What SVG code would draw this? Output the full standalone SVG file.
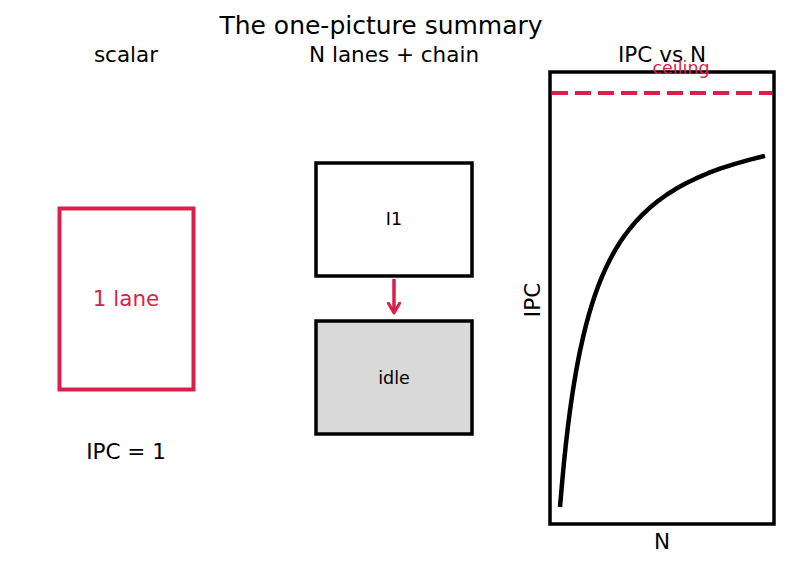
<svg xmlns="http://www.w3.org/2000/svg" width="787" height="567" viewBox="0 0 787 567">
<defs>
<style>
text{font-family:"DejaVu Sans","Liberation Sans",sans-serif;fill:#000}
.t{font-size:25px;text-anchor:middle}
.h{font-size:21.5px;text-anchor:middle}
.m{font-size:17.5px;text-anchor:middle}
.red{fill:#dc1e4a}
.box{fill:#fff;stroke:#000;stroke-width:3.5}
</style>
<marker id="ah" viewBox="0 0 10 10" refX="8" refY="5" markerWidth="4" markerHeight="4" orient="auto"><path d="M1,1 L8,5 L1,9" fill="none" stroke="#dc1e4a" stroke-width="2.2" stroke-linecap="round" stroke-linejoin="round"/></marker>
</defs>
<rect width="787" height="567" fill="#fff"/>
<text class="t" x="381" y="34">The one-picture summary</text>
<text class="h" x="126" y="62">scalar</text>
<text class="h" x="394" y="62">N lanes + chain</text>
<text class="h" x="662" y="62">IPC vs N</text>
<g id="scalar">
<rect x="59.5" y="208.5" width="134" height="181" fill="#fff" stroke="#dc1e4a" stroke-width="4"/>
<text class="h red" x="126" y="306">1 lane</text>
</g>
<text class="h" x="126" y="459">IPC = 1</text>
<g id="I1">
<rect class="box" x="316" y="163" width="156" height="113"/>
<text class="m" x="394" y="225">I1</text>
</g>
<g id="idle">
<rect class="box" x="316" y="321" width="156" height="113" style="fill:#d9d9d9"/>
<text class="m" x="394" y="384">idle</text>
</g>
<g id="connectors">
<line x1="394" y1="279" x2="394" y2="313" stroke="#dc1e4a" stroke-width="3.5" marker-end="url(#ah)"/>
</g>
<g id="plot">
<rect x="550" y="72" width="224" height="452" fill="none" stroke="#000" stroke-width="3.5"/>
<line x1="552" y1="93" x2="772" y2="93" stroke="#dc1e4a" stroke-width="4" stroke-dasharray="16,7"/>
<text class="m red" x="681" y="74">ceiling</text>
<polyline fill="none" stroke="#000" stroke-width="4.5" stroke-linejoin="round" points="560,507 562,483.7 564,462.1 566,443.1 568,426 570,410.5 572,396.5 574,383.6 576,371.8 578,361 580,351 583,337.4 586,325.1 589,314.1 592,304.1 595,295 598,286.7 602,276.7 606,267.7 610,259.5 615,250.4 620,242.3 625,235 630,228.5 636,221.4 642,215 650,207.6 658,201 667,194.5 676,188.8 686,183.3 696,178.4 708,173.2 720,168.7 735,163.8 750,159.6 765,155.9"/>
<text class="h" x="662" y="549">N</text>
<text class="h" transform="translate(540,300) rotate(-90)">IPC</text>
</g>
</svg>
